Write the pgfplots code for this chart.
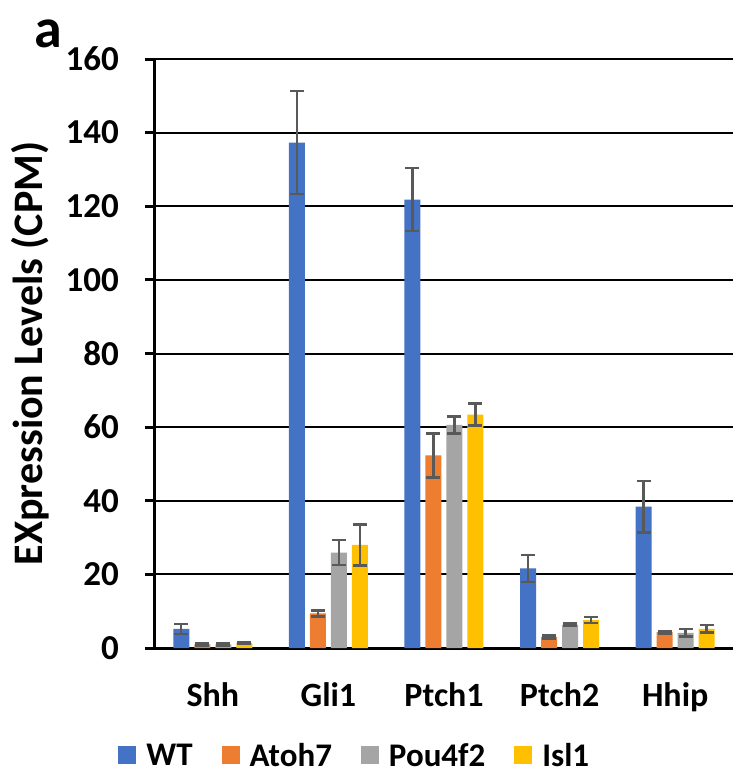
\documentclass[border=0pt]{standalone}
\usepackage{pgfplots}
\pgfplotsset{compat=1.18}
\usepackage{fontspec}
\setmainfont{Carlito}
\definecolor{cWT}{HTML}{4472C4}
\definecolor{cAt}{HTML}{ED7D31}
\definecolor{cPo}{HTML}{A5A5A5}
\definecolor{cIs}{HTML}{FFC000}
\definecolor{errc}{HTML}{595959}
\newcommand{\lf}[1]{\fontsize{16.5pt}{19pt}\selectfont\bfseries\hspace*{5pt}#1}
\begin{document}
\begin{tikzpicture}
\useasboundingbox (-77.5pt,-67.5pt) rectangle (290pt,324pt);
\begin{axis}[
  at={(0,0)}, anchor=south west,
  scale only axis,
  width=289pt, height=294.5pt,
  xmin=-0.5, xmax=4.5,
  ymin=0, ymax=160,
  ytick={0,20,...,160},
  xtick={0,1,2,3,4},
  xticklabels={Shh,Gli1,Ptch1,Ptch2,Hhip},
  extra x ticks={-0.5,0.5,1.5,2.5,3.5,4.5},
  extra x tick labels={},
  extra x tick style={major tick length=5pt, tick style={black, line width=1.5pt}, grid=none},
  axis x line*=bottom, axis y line*=left,
  axis line style={black, line width=1.5pt, -},
  tick align=outside,
  major tick length=5pt,
  xtick style={draw=none},
  ytick style={black, line width=1.5pt},
  ymajorgrids,
  major grid style={black, line width=1pt},
  /pgf/number format/assume math mode=true,
  yticklabel style={font=\fontsize{17.5pt}{20pt}\selectfont\bfseries, anchor=east, xshift=-9.5pt},
  xticklabel style={font=\fontsize{17pt}{20pt}\selectfont\bfseries, anchor=base, yshift=-24pt},
  ylabel={EXpression Levels (CPM)},
  ylabel style={font=\fontsize{21pt}{24pt}\selectfont\bfseries, at={(axis description cs:-0.216,0.5)}, anchor=center},
  ybar=2.5pt,
  bar width=8pt,
  legend columns=4,
  legend style={draw=none, fill=none,
    at={(axis description cs:0.344,-0.1817)}, anchor=center,
    /tikz/every even column/.append style={column sep=14.5pt},
    nodes={inner sep=0pt, text depth=0pt}},
  legend image code/.code={\fill[#1] (0pt,-4.5pt) rectangle (9pt,4.5pt);},
  error bars/y dir=both,
  error bars/y explicit,
  error bars/error bar style={color=errc, line width=1.2pt},
  error bars/error mark options={rotate=90, mark size=3.5pt, color=errc, line width=1.2pt},
]
\addplot[fill=cWT, draw=none] coordinates {
  (0,5.2) +- (0,1.4)
  (1,137.3) +- (0,14.0)
  (2,121.8) +- (0,8.6)
  (3,21.6) +- (0,3.6)
  (4,38.4) +- (0,7.0)
};
\addplot[fill=cAt, draw=none] coordinates {
  (0,1.0) +- (0,0.3)
  (1,9.4) +- (0,0.8)
  (2,52.3) +- (0,6.0)
  (3,3.0) +- (0,0.4)
  (4,4.3) +- (0,0.4)
};
\addplot[fill=cPo, draw=none] coordinates {
  (0,1.0) +- (0,0.3)
  (1,25.9) +- (0,3.4)
  (2,60.6) +- (0,2.3)
  (3,6.3) +- (0,0.4)
  (4,4.1) +- (0,1.0)
};
\addplot[fill=cIs, draw=none] coordinates {
  (0,1.4) +- (0,0.3)
  (1,28.0) +- (0,5.6)
  (2,63.4) +- (0,3.0)
  (3,7.6) +- (0,0.8)
  (4,5.2) +- (0,1.0)
};
\legend{\lf{WT},\lf{Atoh7},\lf{Pou4f2},\lf{Isl1}}
\end{axis}
\node[font=\fontsize{28pt}{32pt}\selectfont\bfseries, anchor=center] at (-53.5pt,307pt) {a};
\end{tikzpicture}
\end{document}
